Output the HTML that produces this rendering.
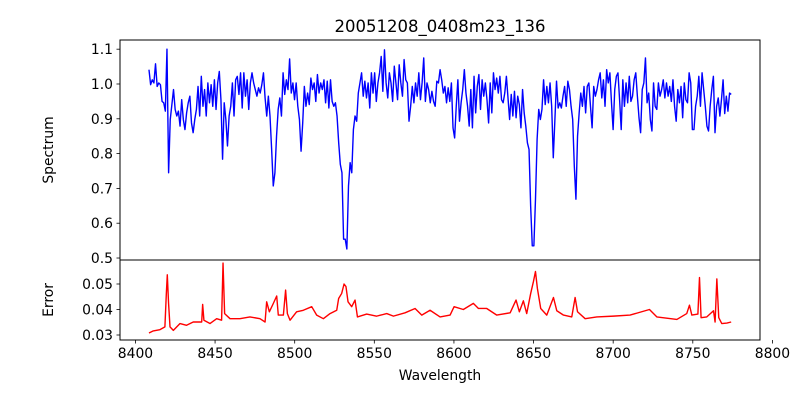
<!DOCTYPE html>
<html><head><meta charset="utf-8"><style>
html,body{margin:0;padding:0;background:#fff;}
svg text{font-family:"DejaVu Sans","Liberation Sans",sans-serif;fill:#000;}
</style></head><body>
<svg id="chart" width="800" height="400" xmlns="http://www.w3.org/2000/svg">
<rect x="0" y="0" width="800" height="400" fill="#fff"/>
<text x="440" y="32" text-anchor="middle" font-size="16.5">20051208_0408m23_136</text>
<text transform="translate(53,150) rotate(-90)" text-anchor="middle" font-size="13.9">Spectrum</text>
<text transform="translate(53,300) rotate(-90)" text-anchor="middle" font-size="13.9">Error</text>
<text x="440" y="380" text-anchor="middle" font-size="13.9">Wavelength</text>
<g id="g"></g>
</svg>
<script>
const specStart = 8408.5, specMid = 8591.3, specEnd = 8774.1;
const spec1 = [1.041,0.998,1.012,1.003,1.058,0.993,1.003,0.998,0.950,0.946,0.922,1.100,0.745,0.898,0.941,0.984,0.927,0.908,0.922,0.879,0.955,0.898,0.869,0.917,0.946,0.965,0.888,0.860,0.898,0.927,0.993,0.908,1.022,0.936,0.984,0.908,1.003,0.946,0.998,0.936,1.012,0.927,1.003,1.036,0.955,0.784,0.946,0.898,0.822,0.908,0.936,1.003,0.908,1.012,1.022,0.970,1.032,0.931,1.032,0.965,1.012,0.927,1.003,1.032,1.003,0.984,0.965,0.989,0.974,0.998,1.032,0.960,0.908,0.965,0.908,0.812,0.707,0.745,0.850,0.927,0.960,0.908,1.032,0.970,1.012,0.984,1.072,0.974,1.003,0.955,1.003,0.936,0.898,0.807,0.888,0.993,0.936,0.974,0.941,1.017,0.984,1.003,0.950,1.027,0.974,1.003,0.984,1.012,0.946,1.008,0.931,1.012,0.950,0.936,0.946,0.908,0.831,0.769,0.745,0.554,0.554,0.526,0.707,0.774,0.745,0.869,0.908,0.893,0.974,1.003,1.032,0.965,1.008,0.960,1.003,0.931,1.032,0.974,1.032,0.950,1.003,1.032,1.079,0.979,1.098,1.003,0.960,1.032,1.003,0.950,1.051,1.003,0.955,1.055,1.003,0.965,1.070,1.012,1.003,0.893,0.936,0.993,0.946,1.003,0.965,1.032,0.955,1.003,1.075,0.950,1.003,0.984,0.946,0.979,0.950,0.936,1.008,1.003,1.041];
const spec2 = [1.008,1.012,0.974,0.993,0.946,0.989,0.950,1.003,0.874,0.845,0.936,1.012,0.893,0.946,0.984,1.041,0.974,0.936,0.879,0.984,0.874,1.022,0.917,0.993,1.027,0.927,1.012,0.965,1.003,0.955,0.888,1.003,0.917,1.032,0.984,1.017,0.974,1.022,0.955,0.946,0.974,1.022,0.960,0.898,0.970,0.908,0.979,0.903,0.965,0.941,0.874,0.984,0.917,0.879,0.831,0.812,0.650,0.535,0.535,0.669,0.841,0.927,0.898,0.927,1.012,0.941,0.993,0.946,1.003,0.936,0.788,0.898,1.008,0.931,0.946,0.931,0.965,0.993,0.936,1.008,0.984,0.936,0.898,0.764,0.669,0.850,0.917,0.974,0.936,0.993,0.917,0.993,1.003,0.936,0.874,0.993,0.965,0.984,1.012,1.032,0.960,1.012,0.936,1.041,1.003,1.032,0.946,0.869,0.984,1.022,1.032,0.955,0.869,1.012,0.936,1.003,0.946,1.022,0.950,0.965,1.012,1.032,0.965,0.903,0.860,0.984,1.003,1.075,0.946,0.974,0.898,0.865,1.003,0.936,0.927,1.003,0.965,0.984,1.012,0.960,1.003,0.965,0.993,0.950,1.012,0.936,0.893,0.984,0.946,0.993,0.903,1.003,0.955,0.946,1.032,1.003,0.869,0.869,0.936,0.965,1.022,0.936,1.032,0.984,0.936,0.879,0.865,0.936,0.984,1.022,0.860,0.936,0.960,0.908,0.955,1.012,0.915,0.965,0.922,0.974,0.970];
const errWave = [8408.5,8411.2,8415.4,8418.5,8419.4,8420.0,8420.8,8421.7,8423.8,8428.0,8432.1,8436.3,8441.6,8442.2,8443.0,8446.8,8451.0,8454.1,8455.0,8456.0,8459.4,8465.6,8471.9,8478.2,8481.4,8482.4,8484.1,8486.6,8488.7,8489.7,8492.9,8494.3,8495.4,8497.1,8501.2,8505.4,8510.7,8513.8,8518.0,8522.2,8526.4,8527.6,8529.5,8531.0,8532.2,8533.5,8535.8,8537.9,8539.4,8545.2,8551.5,8557.8,8562.0,8569.3,8575.6,8579.8,8585.0,8591.3,8597.6,8600.1,8605.9,8612.2,8615.4,8620.6,8626.9,8635.3,8639.0,8641.1,8643.6,8645.7,8648.2,8649.9,8651.2,8652.4,8654.5,8658.3,8662.5,8664.6,8668.8,8674.0,8676.1,8677.6,8682.4,8689.7,8700.2,8710.6,8722.8,8727.4,8740.0,8746.2,8747.9,8749.4,8753.2,8754.2,8755.2,8758.8,8763.0,8764.0,8765.1,8766.3,8768.2,8771.4,8774.1];
const errVals = [0.0308,0.0316,0.0321,0.0332,0.0463,0.0536,0.0424,0.0332,0.0318,0.0345,0.0338,0.0351,0.0351,0.042,0.0358,0.0345,0.0364,0.0358,0.0582,0.0384,0.0364,0.0364,0.0371,0.0364,0.0351,0.043,0.0391,0.0424,0.0453,0.0378,0.0378,0.0476,0.0384,0.0358,0.0391,0.0397,0.0411,0.0378,0.0364,0.0384,0.0397,0.0443,0.0463,0.05,0.049,0.043,0.0411,0.0437,0.0371,0.0382,0.0374,0.0384,0.0374,0.0387,0.0404,0.0378,0.0397,0.0371,0.0378,0.0411,0.04,0.0424,0.0404,0.0404,0.0378,0.0387,0.0437,0.0391,0.0434,0.0384,0.0463,0.0509,0.0549,0.0483,0.0404,0.0378,0.0447,0.0395,0.0378,0.0371,0.0447,0.0391,0.0364,0.0371,0.0374,0.0378,0.04,0.0371,0.0361,0.0384,0.0417,0.0378,0.0382,0.0525,0.0368,0.0371,0.0395,0.0351,0.052,0.0368,0.0345,0.0347,0.0351];
const xTicks = [8400,8450,8500,8550,8600,8650,8700,8750,8800];
const yTicksTop = [0.5,0.6,0.7,0.8,0.9,1.0,1.1];
const yTicksBot = [0.03,0.04,0.05];

const L=120,R=760,T=40,M=260,B=340;
const xMin=8390.3,xMax=8792.2;
const topMin=0.4943,topMax=1.1264,botMin=0.02804,botMax=0.05941;
const X=v=>L+(v-xMin)/(xMax-xMin)*(R-L);
const YT=v=>M-(v-topMin)/(topMax-topMin)*(M-T);
const YB=v=>B-(v-botMin)/(botMax-botMin)*(B-M);
const NS="http://www.w3.org/2000/svg";
const g=document.getElementById('g');
function mk(tag,attrs){const e=document.createElementNS(NS,tag);for(const k in attrs)e.setAttribute(k,attrs[k]);g.appendChild(e);return e;}

// spectrum points
const sw=[],sv=[];
spec1.forEach((v,i)=>{sw.push(specStart+i*(specMid-specStart)/(spec1.length-1));sv.push(v);});
spec2.forEach((v,i)=>{if(i===0)return;sw.push(specMid+i*(specEnd-specMid)/(spec2.length-1));sv.push(v);});
const sp=mk('path',{d:sw.map((w,i)=>(i?'L':'M')+X(w).toFixed(2)+','+YT(sv[i]).toFixed(2)).join(''),fill:'none',stroke:'#0000ff','stroke-width':1.4,'stroke-linejoin':'round'});


const ep=mk('path',{d:errWave.map((w,i)=>(i?'L':'M')+X(w).toFixed(2)+','+YB(errVals[i]).toFixed(2)).join(''),fill:'none',stroke:'#ff0000','stroke-width':1.4,'stroke-linejoin':'round'});



const f1=mk('rect',{x:L,y:T,width:R-L,height:M-T,fill:'none',stroke:'#000','stroke-width':1});


const f2=mk('rect',{x:L,y:M,width:R-L,height:B-M,fill:'none',stroke:'#000','stroke-width':1});



xTicks.forEach(t=>{
  const x=X(t);
  const tk=mk('line',{x1:x,x2:x,y1:B,y2:B+3.5,stroke:'#000','stroke-width':0.8});
  
  
  const tx=mk('text',{x:x,y:B+18,'text-anchor':'middle','font-size':13.9});
  tx.textContent=t;
  
  
});
yTicksTop.forEach(t=>{
  const y=YT(t);
  const tk=mk('line',{x1:L-3.5,x2:L,y1:y,y2:y,stroke:'#000','stroke-width':0.8});
  
  
  const tx=mk('text',{x:L-7,y:y+5,'text-anchor':'end','font-size':13.9});
  tx.textContent=t.toFixed(1);
  
  
});
yTicksBot.forEach(t=>{
  const y=YB(t);
  const tk=mk('line',{x1:L-3.5,x2:L,y1:y,y2:y,stroke:'#000','stroke-width':0.8});
  
  
  const tx=mk('text',{x:L-7,y:y+5,'text-anchor':'end','font-size':13.9});
  tx.textContent=t.toFixed(2);
  
  
});
</script>
</body></html>
